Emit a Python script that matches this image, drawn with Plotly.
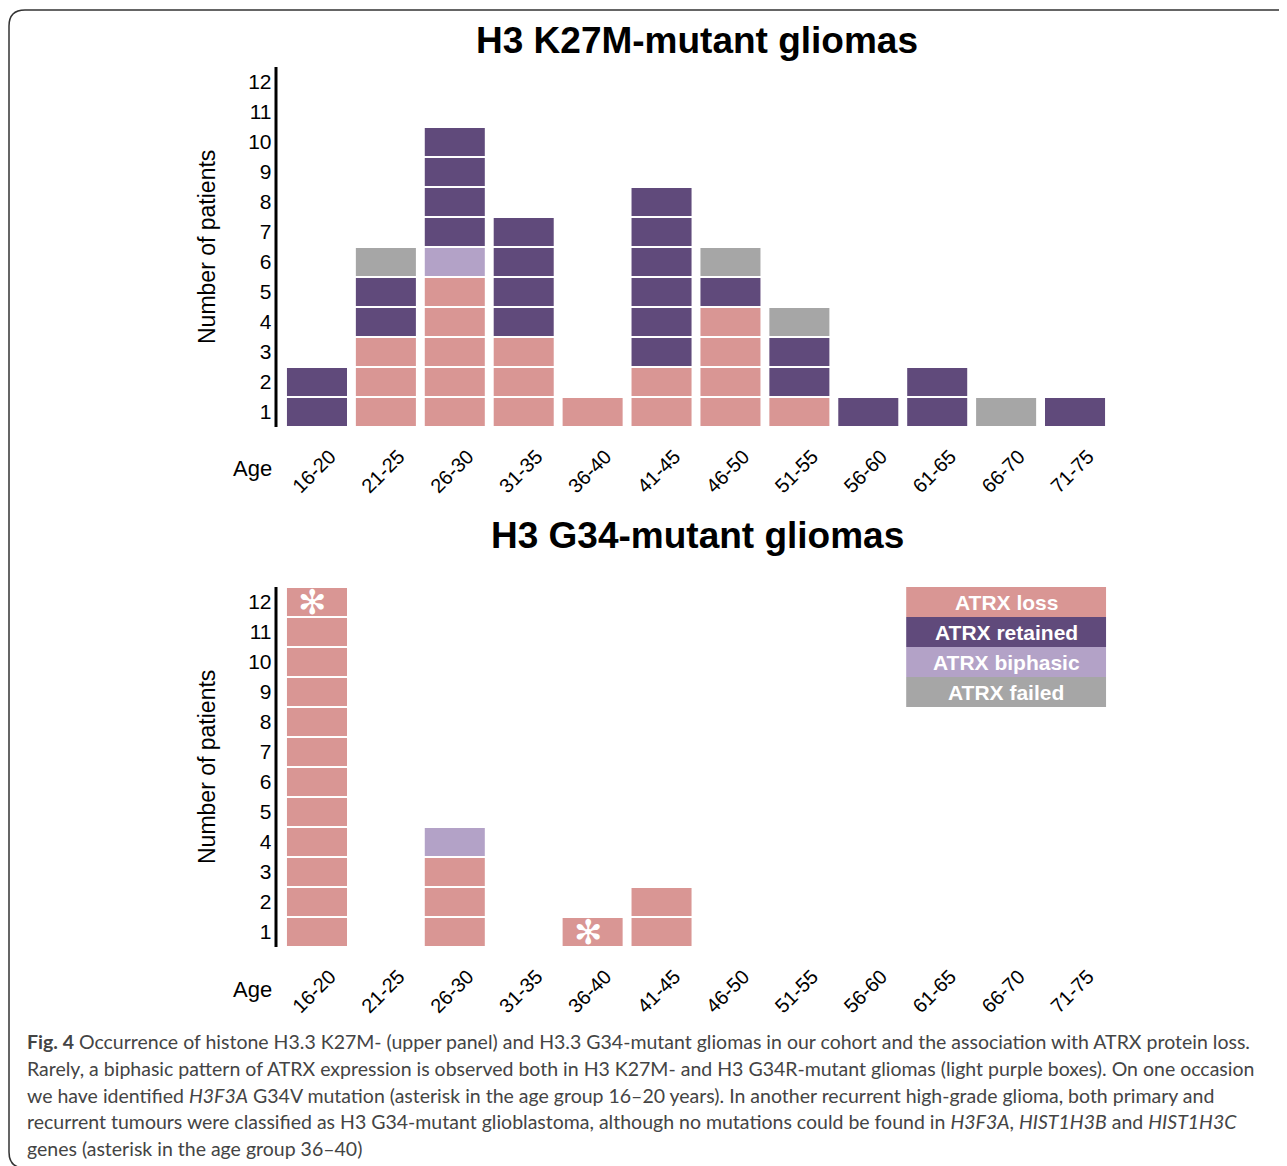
import plotly.graph_objects as go

# ---------------- data ----------------
age_groups = ["16-20", "21-25", "26-30", "31-35", "36-40", "41-45",
              "46-50", "51-55", "56-60", "61-65", "66-70", "71-75"]

status_names = ["ATRX loss", "ATRX biphasic", "ATRX retained", "ATRX failed"]
status_colors = {"ATRX loss": "#D99694", "ATRX retained": "#604A7B",
                 "ATRX biphasic": "#B3A2C7", "ATRX failed": "#A6A6A6"}

# H3 K27M-mutant gliomas (counts per age group)
k27m_loss     = [0, 3, 5, 3, 1, 2, 4, 1, 0, 0, 0, 0]
k27m_biphasic = [0, 0, 1, 0, 0, 0, 0, 0, 0, 0, 0, 0]
k27m_retained = [2, 2, 4, 4, 0, 6, 1, 2, 1, 2, 0, 1]
k27m_failed   = [0, 1, 0, 0, 0, 0, 1, 1, 0, 0, 1, 0]

# H3 G34-mutant gliomas
g34_loss     = [12, 0, 3, 0, 1, 2, 0, 0, 0, 0, 0, 0]
g34_biphasic = [0, 0, 1, 0, 0, 0, 0, 0, 0, 0, 0, 0]
g34_retained = [0, 0, 0, 0, 0, 0, 0, 0, 0, 0, 0, 0]
g34_failed   = [0, 0, 0, 0, 0, 0, 0, 0, 0, 0, 0, 0]

g34_asterisk_groups = ["16-20", "36-40"]

y_tick_labels = [str(i) for i in range(1, 13)]

legend_order = ["ATRX loss", "ATRX retained", "ATRX biphasic", "ATRX failed"]

caption_lines = [
    "<b>Fig. 4</b> Occurrence of histone H3.3 K27M- (upper panel) and H3.3 G34-mutant gliomas in our cohort and the association with ATRX protein loss.",
    "Rarely, a biphasic pattern of ATRX expression is observed both in H3 K27M- and H3 G34R-mutant gliomas (light purple boxes). On one occasion",
    "we have identified <i>H3F3A</i> G34V mutation (asterisk in the age group 16–20 years). In another recurrent high-grade glioma, both primary and",
    "recurrent tumours were classified as H3 G34-mutant glioblastoma, although no mutations could be found in <i>H3F3A</i>, <i>HIST1H3B</i> and <i>HIST1H3C</i>",
    "genes (asterisk in the age group 36–40)",
]

# ---------------- layout geometry ----------------
OFF = 8  # page body margin
W, H = 1287 - OFF, 1166 - OFF
def px(x):
    return (x - OFF) / W
def py(y):
    return 1 - (y - OFF) / H

FONT = "Liberation Sans, Arial, sans-serif"

fig = go.Figure()

panels = [
    ("x", "y", {"ATRX loss": k27m_loss, "ATRX biphasic": k27m_biphasic,
                "ATRX retained": k27m_retained, "ATRX failed": k27m_failed}),
    ("x2", "y2", {"ATRX loss": g34_loss, "ATRX biphasic": g34_biphasic,
                  "ATRX retained": g34_retained, "ATRX failed": g34_failed}),
]

for xa, ya, series in panels:
    cum = [0] * len(age_groups)
    for name in status_names:
        counts = series[name]
        xs, bases = [], []
        for i, c in enumerate(counts):
            for k in range(c):
                xs.append(age_groups[i])
                bases.append(cum[i] + k)
            cum[i] += c
        if not xs:
            continue
        fig.add_trace(go.Bar(
            x=xs, y=[1] * len(xs), base=bases, name=name,
            marker=dict(color=status_colors[name], line=dict(color="white", width=2)),
            xaxis=xa, yaxis=ya, showlegend=False, hoverinfo="skip"))

# asterisks on G34 bars
g34_totals = [a + b + c + d for a, b, c, d in zip(g34_loss, g34_biphasic, g34_retained, g34_failed)]
for g in g34_asterisk_groups:
    i = age_groups.index(g)
    fig.add_annotation(x=g, y=g34_totals[i] - 0.5, xref="x2", yref="y2",
                       text="✻", showarrow=False, xshift=-4, xanchor="center", yanchor="middle",
                       font=dict(family="DejaVu Sans", size=34, color="white"))

x_dom = [px(282.5), px(1109.5)]
top_dom = [py(427), py(67)]
bot_dom = [py(947), py(587)]

axis_common = dict(showgrid=False, zeroline=False, showline=False)
xaxis_common = dict(domain=x_dom, range=[-0.5, 11.5], type="category",
                    categoryorder="array", categoryarray=age_groups,
                    tickmode="array", tickvals=age_groups, ticktext=age_groups,
                    tickangle=-45, ticks="", tickfont=dict(size=20, family=FONT),
                    ticklabelshift=13, ticklabelstandoff=13, **axis_common)
yaxis_common = dict(range=[0, 12], tickmode="array", tickvals=[i + 0.5 for i in range(12)],
                    ticktext=y_tick_labels, ticks="", tickfont=dict(size=21, family=FONT),
                    ticklabelstandoff=10, **axis_common)
fig.update_layout(
    width=W, height=H, margin=dict(l=0, r=0, t=0, b=0),
    paper_bgcolor="white", plot_bgcolor="white",
    barmode="overlay", bargap=0.1,
    font=dict(family=FONT, color="black"),
    xaxis=dict(anchor="y", **xaxis_common),
    yaxis=dict(domain=top_dom, anchor="x", **yaxis_common),
    xaxis2=dict(anchor="y2", **xaxis_common),
    yaxis2=dict(domain=bot_dom, anchor="x2", **yaxis_common),
)

shapes = []
# axis lines
for ya in ["y", "y2"]:
    shapes.append(dict(type="line", xref="paper", yref=ya, x0=px(276), x1=px(276), y0=0, y1=12,
                       line=dict(color="black", width=3)))
    shapes.append(dict(type="line", xref="paper", yref=ya, x0=px(277), x1=px(1106), y0=-0.2, y1=-0.2,
                       line=dict(color="black", width=2)))

# legend boxes inside bottom panel
half = 0.45
for r, name in enumerate(legend_order):
    y1 = 12 - r
    shapes.append(dict(type="rect", xref="x2", yref="y2",
                       x0=age_groups.index("61-65") - half, x1=age_groups.index("71-75") + half,
                       y0=y1 - 1, y1=y1, fillcolor=status_colors[name],
                       line=dict(width=0), layer="above"))
    fig.add_annotation(x=(age_groups.index("61-65") + age_groups.index("71-75")) / 2, y=y1 - 0.5,
                       xref="x2", yref="y2", text=f"<b>{name}</b>", showarrow=False,
                       xanchor="center", yanchor="middle",
                       font=dict(family=FONT, size=21, color="white"))

# rounded frame (bottom edge falls just off the page)
r = 16
path = (f"M {px(1300)},{py(10)} L {px(9 + r)},{py(10)} "
        f"Q {px(9)},{py(10)} {px(9)},{py(10 + r)} "
        f"L {px(9)},{py(1168 - r)} Q {px(9)},{py(1168)} {px(9 + r)},{py(1168)} "
        f"L {px(1300)},{py(1168)}")
shapes.append(dict(type="path", xref="paper", yref="paper", path=path,
                   line=dict(color="#333333", width=1.5)))
fig.update_layout(shapes=shapes)

# titles
for txt, yy in [("<b>H3 K27M-mutant gliomas</b>", 41), ("<b>H3 G34-mutant gliomas</b>", 535)]:
    fig.add_annotation(x=px(697), y=py(yy), xref="paper", yref="paper", text=txt,
                       xanchor="center", yanchor="middle", showarrow=False,
                       font=dict(family=FONT, size=37, color="black"))

# y axis titles and Age labels
for ya, age_y in [("y", 468), ("y2", 989)]:
    fig.add_annotation(x=px(207), y=6, xref="paper", yref=ya, text="Number of patients",
                       textangle=-90, showarrow=False, xanchor="center", yanchor="middle",
                       font=dict(family=FONT, size=23, color="black"))
    fig.add_annotation(x=px(252), y=py(age_y), xref="paper", yref="paper", text="Age",
                       xanchor="center", yanchor="middle",
                       showarrow=False, font=dict(family=FONT, size=22, color="black"))

# caption
cap_y = [1041, 1068, 1095, 1121, 1148]
for line, yy in zip(caption_lines, cap_y):
    fig.add_annotation(x=px(25), y=py(yy), xref="paper", yref="paper", text=line,
                       xanchor="left", yanchor="middle", showarrow=False,
                       font=dict(family="Lato", size=19.5, color="#444444"))

fig.write_html("out.html")
